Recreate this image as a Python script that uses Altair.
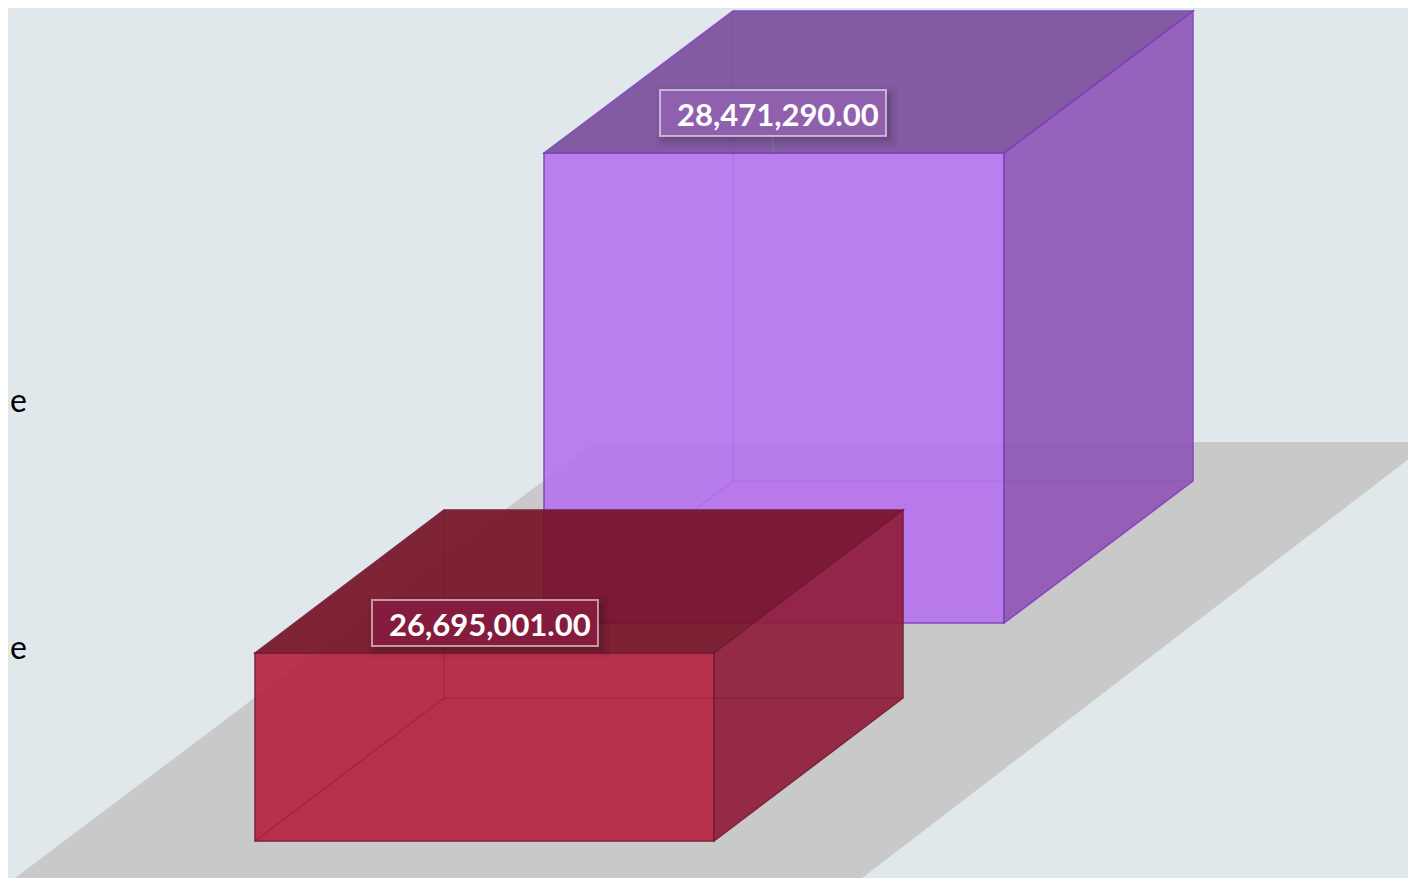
import altair as alt
import pandas as pd

BACKGROUND = "#e0e8ec"
FLOOR_COLOR = "#c8c9c8"

# Box geometry (pixel space of the reference)
names = ["purple", "red"]
left = [544, 255]
right = [1004, 714]
top = [153, 653]
base = [623, 841]
depth_x = [189, 189]
depth_y = [142, 143]
front_fill = ["#b773ef", "#b6203f"]
side_fill = ["#8f54b8", "#8f1b39"]
top_fill = ["#794c9b", "#750f24"]
edge_color = ["#7b3fb8", "#741a34"]
hidden_color = ["#8d45cc", "#7c1530"]
face_opacity = [0.9, 0.9]
hidden_opacity = [0.12, 0.22]

# Value labels
label_text = ["28,471,290.00", "26,695,001.00"]
label_x = [660, 372]
label_x2 = [886, 598]
label_y = [90, 600]
label_y2 = [136, 646]
label_fill = ["#8f60ae", "#861c3d"]
text_x = [677, 389]
text_y = [126, 636]

# Axis labels at the left edge (kept whole inside the page margin)
axis_text = ["e", "e"]
axis_x = [10, 10]
axis_y = [412, 659]

# Floor outline rows
floor_x = [15, 595, 862, 1431]
floor_y = [878, 442, 442, 442]
floor_y2 = [878, 878, 878, 442]

# Leader line
leader_x = [772, 774]
leader_y = [136, 153]

W, H = 1400, 870
X = alt.Scale(domain=[8, 1408], range=[0, W], nice=False, zero=False)
Y = alt.Scale(domain=[8, 878], range=[0, H], nice=False, zero=False)


def area(rows, **mark):
    df = pd.DataFrame(rows, columns=["x", "y", "y2"])
    return alt.Chart(df).mark_area(clip=True, orient="vertical", **mark).encode(
        x=alt.X("x:Q", scale=X, axis=None),
        y=alt.Y("y:Q", scale=Y, axis=None),
        y2="y2:Q",
    )


def slab(x0, x1, dx, dy, level):
    """A receding parallelogram of a box at the y level given."""
    return [
        (x0, level, level),
        (x0 + dx, level - dy, level),
        (x1, level - dy, level),
        (x1 + dx, level - dy, level - dy),
    ]


layers = [area(list(zip(floor_x, floor_y, floor_y2)), color=FLOOR_COLOR)]

for i in range(len(names)):
    x0, x1, t, b, dx, dy = left[i], right[i], top[i], base[i], depth_x[i], depth_y[i]
    op = face_opacity[i]
    edge = dict(stroke=edge_color[i], strokeWidth=1.5)
    # floor of the box, faint
    layers.append(area(slab(x0, x1, dx, dy, b), color=hidden_color[i], opacity=0.06))
    # visible faces
    layers.append(area([(x0, t, b), (x1, t, b)], color=front_fill[i], opacity=op, **edge))
    layers.append(area([(x1, t, b), (x1 + dx, t - dy, b - dy)], color=side_fill[i], opacity=op, **edge))
    layers.append(area(slab(x0, x1, dx, dy, t), color=top_fill[i], opacity=op, **edge))
    # edges seen through the faces
    hidden = dict(fillOpacity=0, stroke=hidden_color[i], strokeOpacity=hidden_opacity[i], strokeWidth=1.2)
    layers.append(area([(x0 + dx, t - dy, b - dy), (x1 + dx, t - dy, b - dy)], color=hidden_color[i], **hidden))
    layers.append(area([(x0, t, b), (x0 + dx, t - dy, b - dy)], color=hidden_color[i], **hidden))
    layers.append(area(slab(x0, x1, dx, dy, b), color=hidden_color[i], **hidden))

leader = alt.Chart(pd.DataFrame({"x": leader_x, "y": leader_y})).mark_line(
    color="#777f80", strokeWidth=1.5
).encode(x=alt.X("x:Q", scale=X, axis=None), y=alt.Y("y:Q", scale=Y, axis=None))
layers.append(leader)

for i in range(len(label_text)):
    # soft shadow built from widening translucent boxes
    for grow, alpha in [(10, 0.03), (7, 0.04), (4, 0.05), (2, 0.06)]:
        sh = pd.DataFrame([{
            "x": label_x[i] + 6 - grow, "x2": label_x2[i] + 2 + grow,
            "y": label_y[i] + 6 - grow, "y2": label_y2[i] + 2 + grow,
        }])
        layers.append(alt.Chart(sh).mark_rect(color="#000000", opacity=alpha).encode(
            x=alt.X("x:Q", scale=X, axis=None), x2="x2:Q",
            y=alt.Y("y:Q", scale=Y, axis=None), y2="y2:Q",
        ))
    box = pd.DataFrame([{
        "x": label_x[i], "x2": label_x2[i], "y": label_y[i], "y2": label_y2[i],
    }])
    layers.append(alt.Chart(box).mark_rect(
        fill=label_fill[i], stroke="#ffffff", strokeOpacity=0.55, strokeWidth=2
    ).encode(
        x=alt.X("x:Q", scale=X, axis=None), x2="x2:Q",
        y=alt.Y("y:Q", scale=Y, axis=None), y2="y2:Q",
    ))

labels = pd.DataFrame({"x": text_x, "y": text_y, "t": label_text})
layers.append(alt.Chart(labels).mark_text(
    align="left", baseline="alphabetic", font="Lato", fontWeight="bold",
    fontSize=31, color="#ffffff"
).encode(
    x=alt.X("x:Q", scale=X, axis=None), y=alt.Y("y:Q", scale=Y, axis=None), text="t:N"
))

axis_labels = pd.DataFrame({"x": axis_x, "y": axis_y, "t": axis_text})
layers.append(alt.Chart(axis_labels).mark_text(
    align="left", baseline="alphabetic", font="Lato", fontSize=32, color="#000000"
).encode(
    x=alt.X("x:Q", scale=X, axis=None), y=alt.Y("y:Q", scale=Y, axis=None), text="t:N"
))

chart = alt.layer(*layers).properties(
    width=W, height=H, padding=0, background=BACKGROUND,
    autosize=alt.AutoSizeParams(type="none"),
).configure_view(stroke=None)

chart.save("out.html", embed_options={"renderer": "svg", "actions": False})
